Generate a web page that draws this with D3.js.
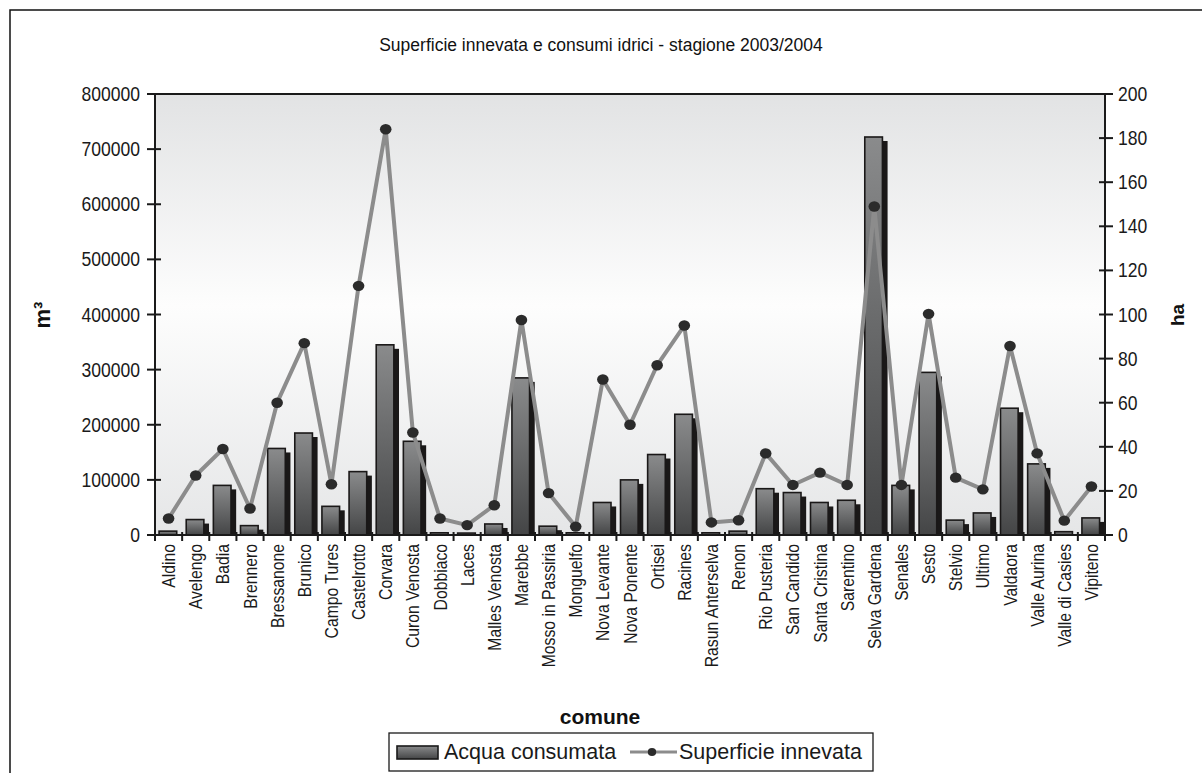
<!DOCTYPE html>
<html><head><meta charset="utf-8">
<script src="https://cdn.jsdelivr.net/npm/d3@7"></script>
<style>
html,body{margin:0;padding:0;background:#fff;}
svg{display:block;font-family:"Liberation Sans",Arial,sans-serif;}
</style></head>
<body>
<svg id="chart" width="1202" height="773"></svg>
<script>
const categories = ["Aldino","Avelengo","Badia","Brennero","Bressanone","Brunico","Campo Tures","Castelrotto","Corvara","Curon Venosta","Dobbiaco","Laces","Malles Venosta","Marebbe","Mosso in Passiria","Monguelfo","Nova Levante","Nova Ponente","Ortisei","Racines","Rasun Anterselva","Renon","Rio Pusteria","San Candido","Santa Cristina","Sarentino","Selva Gardena","Senales","Sesto","Stelvio","Ultimo","Valdaora","Valle Aurina","Valle di Casies","Vipiteno"];
const acquaConsumata = [7000,28000,90000,17000,157000,185000,52000,115000,345000,170000,4000,3500,20000,285000,16000,4000,59000,100000,146000,219000,4000,7000,84000,77000,59000,63000,722000,90000,295000,27000,40000,230000,129000,6000,31000];
const superficieInnevata = [7.5,27,39,12,60,87,23,113,184,46.5,7.5,4.5,13.5,97.5,19,3.8,70.5,50,77,95,5.7,6.7,37,22.7,28.3,22.7,149,22.7,100.3,26,20.7,85.7,37,6.5,22];
const leftTicks = [0,100000,200000,300000,400000,500000,600000,700000,800000];
const rightTicks = [0,20,40,60,80,100,120,140,160,180,200];
const titleText = "Superficie innevata e consumi idrici - stagione 2003/2004";
const seriesNames = ["Acqua consumata","Superficie innevata"];

const svg = d3.select("#chart");
const L = 155, R = 1105, T = 94, B = 535;

const defs = svg.append("defs");
const bg = defs.append("linearGradient").attr("id","bgGrad").attr("x1",0).attr("y1",0).attr("x2",0).attr("y2",1);
bg.append("stop").attr("offset","0%").attr("stop-color","#e2e3e4");
bg.append("stop").attr("offset","48%").attr("stop-color","#fdfdfd");
bg.append("stop").attr("offset","100%").attr("stop-color","#e5e6e7");
const barG = defs.append("linearGradient").attr("id","barGrad").attr("x1",0).attr("y1",0).attr("x2",0).attr("y2",1);
barG.append("stop").attr("offset","0%").attr("stop-color","#8a8b8c");
barG.append("stop").attr("offset","100%").attr("stop-color","#444546");

// outer frame
svg.append("rect").attr("x",10).attr("y",10).attr("width",1200).attr("height",770)
  .attr("fill","#fff").attr("stroke","#111").attr("stroke-width",1.5);

// title
svg.append("text").attr("x",601).attr("y",51).attr("text-anchor","middle")
  .attr("font-size",17.5).attr("fill","#111").text(titleText);

// plot bg
svg.append("rect").attr("x",L).attr("y",T).attr("width",R-L).attr("height",B-T).attr("fill","url(#bgGrad)");

const x = d3.scaleBand().domain(categories).range([L,R]).paddingInner(0).paddingOuter(0);
const yL = d3.scaleLinear().domain([0,800000]).range([B,T]);
const yR = d3.scaleLinear().domain([0,200]).range([B,T]);
const bw = x.bandwidth();

// bars
const bars = svg.append("g");
categories.forEach((c,i)=>{
  const v = acquaConsumata[i];
  const x0 = x(c) + bw*0.15, w = bw*0.65, yt = yL(v);
  const off = bw*0.19;
  bars.append("rect").attr("x",x0+off).attr("y",Math.min(yt+4,B)).attr("width",w).attr("height",Math.max(B-yt-4,0)).attr("fill","#1a1818");
  bars.append("rect").attr("x",x0).attr("y",yt).attr("width",w).attr("height",B-yt)
    .attr("fill","url(#barGrad)").attr("stroke","#1a1818").attr("stroke-width",1.6);
});

// top border line
svg.append("line").attr("x1",L).attr("x2",R).attr("y1",T).attr("y2",T).attr("stroke","#1a1a1a").attr("stroke-width",2);

// line series
const line = d3.line().x((d,i)=>x(categories[i])+bw/2).y(d=>yR(d));
svg.append("path").datum(superficieInnevata).attr("d",line).attr("fill","none")
  .attr("stroke","#8c8c8c").attr("stroke-width",4).attr("stroke-linejoin","round");
svg.append("g").selectAll("ellipse").data(superficieInnevata).join("ellipse")
  .attr("cx",(d,i)=>x(categories[i])+bw/2).attr("cy",d=>yR(d)).attr("rx",5.8).attr("ry",5.2)
  .attr("fill","#2b2b2b");

// axes
const ax = svg.append("g").attr("stroke","#1a1a1a");
ax.append("line").attr("x1",L).attr("x2",L).attr("y1",T).attr("y2",B+6).attr("stroke-width",2);
ax.append("line").attr("x1",R).attr("x2",R).attr("y1",T).attr("y2",B+6).attr("stroke-width",2);
ax.append("line").attr("x1",L).attr("x2",R).attr("y1",B).attr("y2",B).attr("stroke-width",2);
leftTicks.forEach(t=>{
  ax.append("line").attr("x1",L-8).attr("x2",L+6).attr("y1",yL(t)).attr("y2",yL(t)).attr("stroke-width",2);
  svg.append("text").attr("transform",`translate(140,${yL(t)+7}) scale(0.9,1)`).attr("text-anchor","end").attr("font-size",19.5).attr("fill","#1a1a1a").text(t);
});
rightTicks.forEach(t=>{
  ax.append("line").attr("x1",R-6).attr("x2",R+8).attr("y1",yR(t)).attr("y2",yR(t)).attr("stroke-width",2);
  svg.append("text").attr("transform",`translate(1118,${yR(t)+7}) scale(0.9,1)`).attr("text-anchor","start").attr("font-size",19.5).attr("fill","#1a1a1a").text(t);
});
categories.forEach(c=>{
  ax.append("line").attr("x1",x(c)).attr("x2",x(c)).attr("y1",B-3).attr("y2",B+6).attr("stroke-width",2);
});
ax.append("line").attr("x1",R).attr("x2",R).attr("y1",B-3).attr("y2",B+6).attr("stroke-width",2);

// x labels
categories.forEach(c=>{
  const cx = x(c)+bw/2+6.5;
  svg.append("text").attr("transform",`translate(${cx},544) rotate(-90) scale(0.9,1)`).attr("text-anchor","end")
    .attr("font-size",17.5).attr("fill","#1a1a1a").text(c);
});

// axis titles
svg.append("text").attr("transform","translate(50,315) rotate(-90)").attr("text-anchor","middle")
  .attr("font-size",22).attr("font-weight","bold").attr("fill","#111").text("m³");
svg.append("text").attr("transform","translate(1184,315) rotate(-90)").attr("text-anchor","middle")
  .attr("font-size",19).attr("font-weight","bold").attr("fill","#111").text("ha");
svg.append("text").attr("x",600).attr("y",724).attr("text-anchor","middle")
  .attr("font-size",21).attr("font-weight","bold").attr("fill","#111").text("comune");

// legend
const lg = svg.append("g");
lg.append("rect").attr("x",389).attr("y",733).attr("width",484).attr("height",38).attr("fill","#fff").attr("stroke","#1a1a1a").attr("stroke-width",1.3);
lg.append("rect").attr("x",397).attr("y",746).attr("width",41).attr("height",13).attr("fill","url(#barGrad)").attr("stroke","#1a1a1a").attr("stroke-width",1.6);
lg.append("text").attr("x",444).attr("y",759).attr("font-size",21.5).attr("fill","#1a1a1a").text(seriesNames[0]);
lg.append("line").attr("x1",630).attr("x2",677).attr("y1",752).attr("y2",752).attr("stroke","#8c8c8c").attr("stroke-width",3);
lg.append("ellipse").attr("cx",652).attr("cy",752).attr("rx",4.2).attr("ry",4).attr("fill","#2b2b2b");
lg.append("text").attr("x",679).attr("y",759).attr("font-size",21.5).attr("fill","#1a1a1a").text(seriesNames[1]);
</script>
</body></html>
